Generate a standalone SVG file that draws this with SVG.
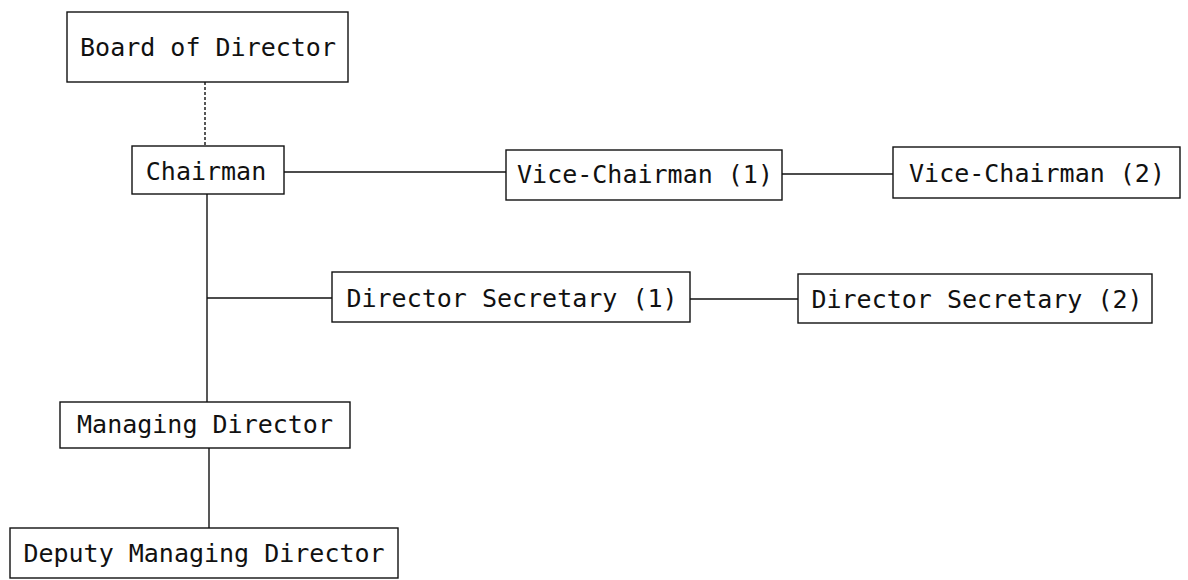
<svg xmlns="http://www.w3.org/2000/svg" width="1188" height="580" viewBox="0 0 1188 580">
<style>
.box{fill:#fff;stroke:#111;stroke-width:1.4}
.lbl{font-family:"DejaVu Sans Mono","Liberation Mono",monospace;font-size:25px;fill:#111;text-anchor:middle}
.ln{stroke:#111;stroke-width:1.4;fill:none}
.dot{stroke-dasharray:3 2}
</style>
<rect width="1188" height="580" fill="#fff"/>
<g id="connectors">
<line class="ln dot" x1="205" y1="82" x2="205" y2="146"/>
<line class="ln" x1="207" y1="194" x2="207" y2="402"/>
<line class="ln" x1="207" y1="298" x2="332" y2="298"/>
<line class="ln" x1="284" y1="172" x2="506" y2="172"/>
<line class="ln" x1="782" y1="174" x2="893" y2="174"/>
<line class="ln" x1="690" y1="299" x2="798" y2="299"/>
<line class="ln" x1="209" y1="448" x2="209" y2="528"/>
</g>
<g id="board"><rect class="box" x="67" y="12" width="281" height="70"/><text class="lbl" x="208" y="56">Board of Director</text></g>
<g id="chairman"><rect class="box" x="132" y="146" width="152" height="48"/><text class="lbl" x="206" y="180">Chairman</text></g>
<g id="vc1"><rect class="box" x="506" y="150" width="276" height="50"/><text class="lbl" x="645" y="183">Vice-Chairman (1)</text></g>
<g id="vc2"><rect class="box" x="893" y="147" width="287" height="51"/><text class="lbl" x="1037" y="182">Vice-Chairman (2)</text></g>
<g id="ds1"><rect class="box" x="332" y="272" width="358" height="50"/><text class="lbl" x="512" y="307">Director Secretary (1)</text></g>
<g id="ds2"><rect class="box" x="798" y="274" width="354" height="49"/><text class="lbl" x="977" y="308">Director Secretary (2)</text></g>
<g id="md"><rect class="box" x="60" y="402" width="290" height="46"/><text class="lbl" x="205" y="433">Managing Director</text></g>
<g id="dmd"><rect class="box" x="10" y="528" width="388" height="50"/><text class="lbl" x="204" y="562">Deputy Managing Director</text></g>
</svg>
